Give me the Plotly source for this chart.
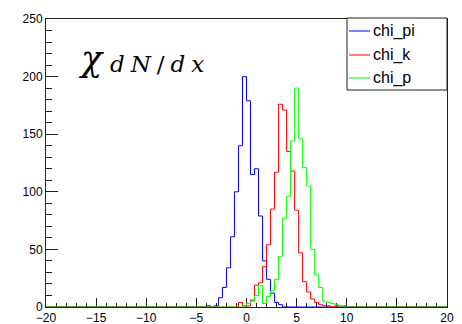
import numpy as np
import plotly.graph_objects as go

# ---- data (bin width 0.4 over [-20, 20]) ----
x_min, x_max, n_bins = -20.0, 20.0, 100

chi_pi_start = -4.0
chi_pi_counts = [1, 0, 1, 8, 17, 34, 61, 100, 140, 200, 179, 115, 120, 79, 40, 24, 12, 4, 2]

chi_k_start = -0.8
chi_k_counts = [4, 1, 1, 6, 19, 21, 35, 54, 85, 117, 176, 171, 135, 118, 84, 47, 22, 13, 7, 4,
                2, 1, 1, 0, 1, 0, 1]

chi_p_start = -0.4
chi_p_counts = [1, 3, 5, 10, 19, 3, 9, 14, 24, 44, 77, 96, 144, 190, 146, 121, 105, 50, 28, 17,
                5, 4, 3, 2, 1]

series_names = ["chi_pi", "chi_k", "chi_p"]
series_colors = ["#0000ff", "#ff0000", "#00ff00"]

x_ticks = [-20, -15, -10, -5, 0, 5, 10, 15, 20]
y_ticks = [0, 50, 100, 150, 200, 250]

edges = np.linspace(x_min, x_max, n_bins + 1)
width = (x_max - x_min) / n_bins


def full_hist(start, counts):
    h = np.zeros(n_bins)
    i0 = int(round((start - x_min) / width))
    h[i0:i0 + len(counts)] = counts
    return h


hists = [full_hist(chi_pi_start, chi_pi_counts),
         full_hist(chi_k_start, chi_k_counts),
         full_hist(chi_p_start, chi_p_counts)]

# ---- layout geometry (pixels) ----
W, H = 462, 324
L, R, T, B = 46, 15, 19, 17
PW, PH = W - L - R, H - T - B


def pxx(px):
    return (px - L) / PW


def pxy(py):
    return (H - B - py) / PH


fig = go.Figure()
for name, color, h in zip(series_names, series_colors, hists):
    fig.add_trace(go.Scatter(
        x=edges, y=np.append(h, h[-1]), mode="lines", name=name,
        line=dict(color=color, width=1, shape="hv"), showlegend=False,
        hoverinfo="skip"))

tick_font = dict(family="Liberation Sans, Arial, sans-serif", size=12, color="black")

fig.update_layout(
    width=W, height=H,
    margin=dict(l=L, r=R, t=T, b=B, pad=0),
    paper_bgcolor="white", plot_bgcolor="white",
    xaxis=dict(range=[x_min, x_max], tickvals=x_ticks, ticks="inside", ticklen=9,
               tickcolor="#222", tickwidth=1, showline=True, linecolor="#222",
               linewidth=1, mirror=True, showgrid=False, zeroline=False,
               tickfont=tick_font, layer="below traces", automargin=False,
               minor=dict(dtick=1, ticks="inside", ticklen=4, tickcolor="#222")),
    yaxis=dict(range=[0, 250], tickvals=y_ticks, ticks="inside", ticklen=12,
               tickcolor="#222", tickwidth=1, showline=True, linecolor="#222",
               linewidth=1, mirror=True, showgrid=False, zeroline=False,
               tickfont=tick_font, layer="below traces", automargin=False,
               minor=dict(dtick=10, ticks="inside", ticklen=6, tickcolor="#222")),
)

# ---- legend box (drawn by hand to follow ROOT's TLegend look) ----
fig.add_shape(type="rect", xref="paper", yref="paper",
              x0=pxx(347), x1=pxx(447), y0=pxy(90), y1=pxy(18),
              line=dict(color="#222", width=1), fillcolor="white", layer="above")
row_y = [31, 55, 78]
for name, color, ry in zip(series_names, series_colors, row_y):
    fig.add_shape(type="line", xref="paper", yref="paper",
                  x0=pxx(349), x1=pxx(370), y0=pxy(ry), y1=pxy(ry),
                  line=dict(color=color, width=1), layer="above")
    fig.add_annotation(xref="paper", yref="paper", x=pxx(371), y=pxy(ry),
                       xanchor="left", yanchor="middle", showarrow=False,
                       text=name,
                       font=dict(family="Liberation Sans, Arial, sans-serif",
                                 size=16, color="black"))

# ---- math label ----
fig.add_annotation(xref="paper", yref="paper", x=pxx(91), y=pxy(59),
                   xanchor="center", yanchor="middle", showarrow=False,
                   text="<i>χ</i>",
                   font=dict(family="DejaVu Serif, serif", size=35, color="black"))
fig.add_annotation(xref="paper", yref="paper", x=pxx(160), y=pxy(64),
                   xanchor="center", yanchor="middle", showarrow=False,
                   text='<span style="letter-spacing:6px"><i>dN</i>/<i>dx</i></span>',
                   font=dict(family="DejaVu Serif, serif", size=23, color="black"))

fig.write_html("out.html")
